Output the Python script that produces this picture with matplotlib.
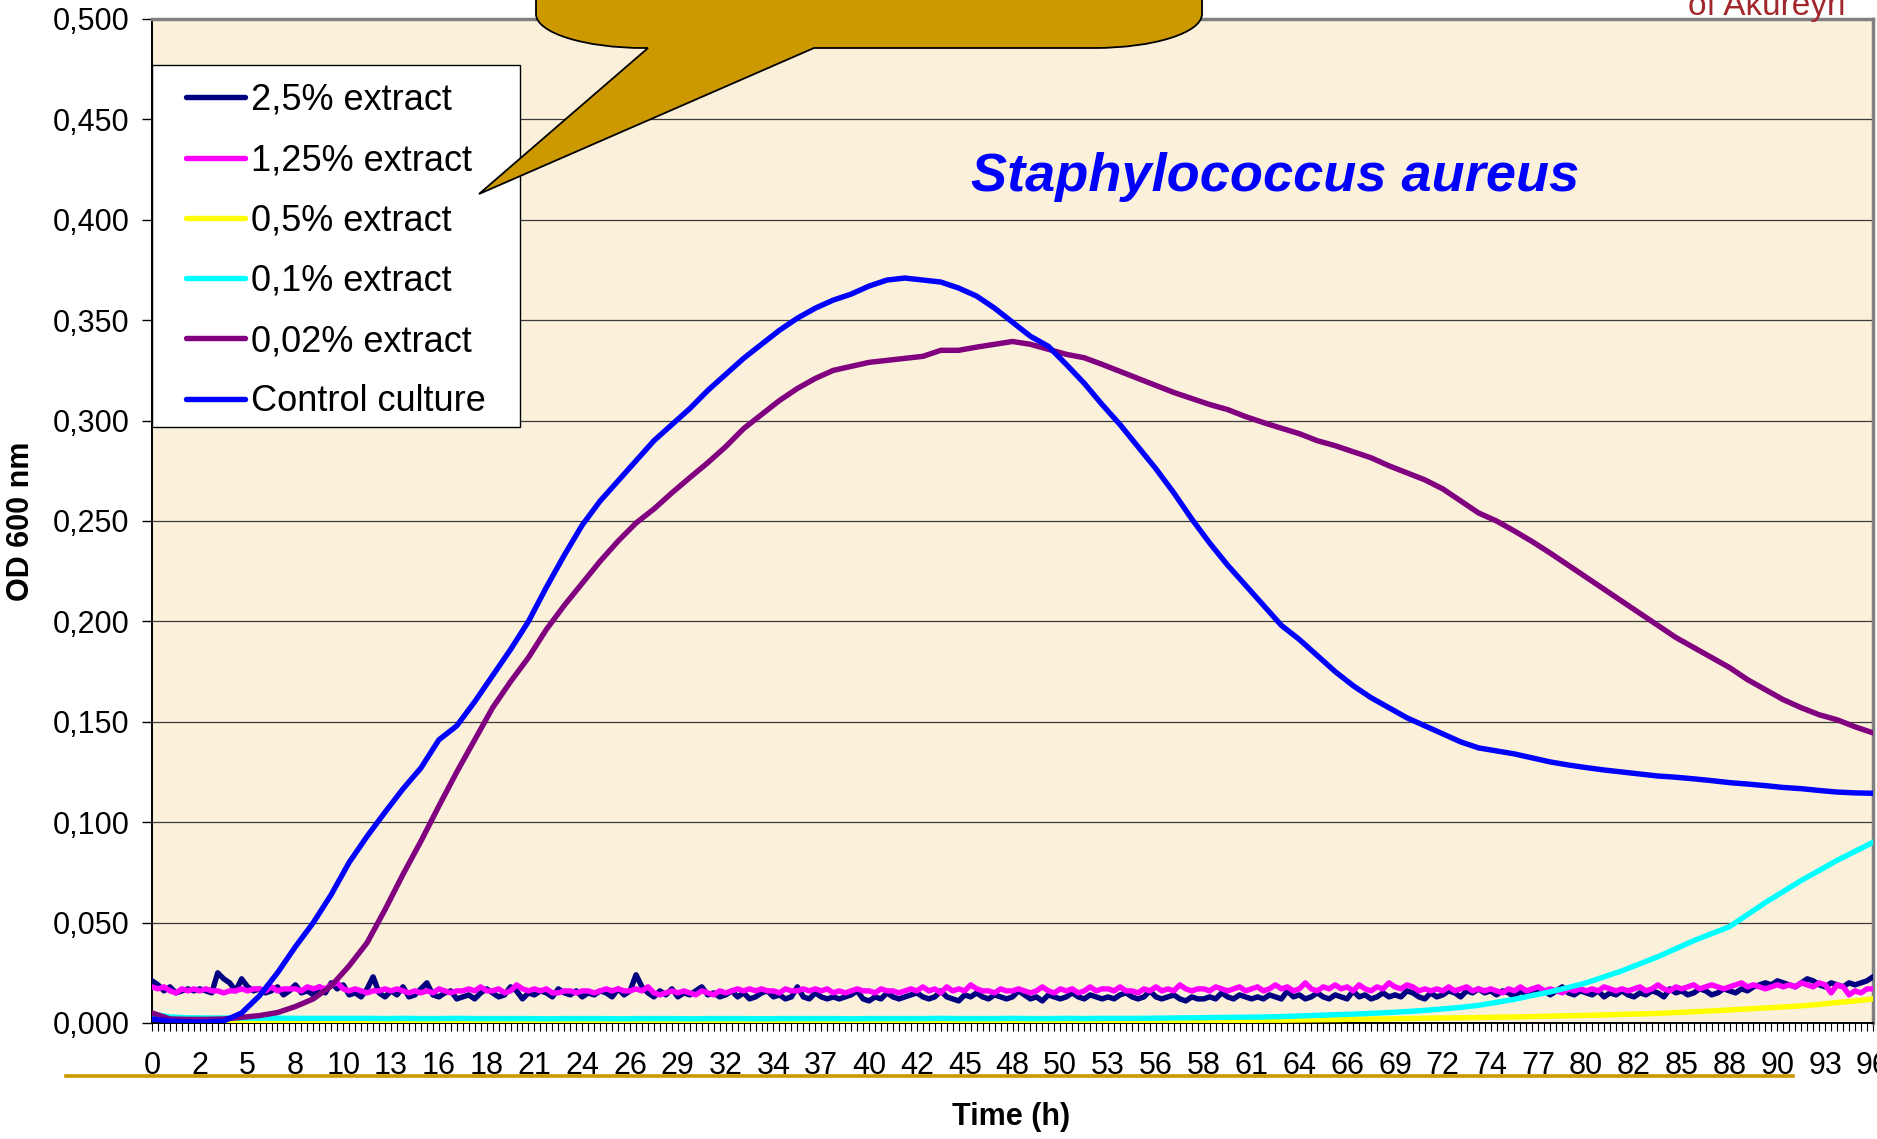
import numpy as np
import matplotlib
matplotlib.use("Agg")
import matplotlib.pyplot as plt
from matplotlib.path import Path
from matplotlib.patches import PathPatch, Rectangle
from matplotlib.lines import Line2D
from matplotlib.transforms import Affine2D
from matplotlib.ticker import FuncFormatter

plt.rcParams['font.family'] = ['Liberation Sans', 'DejaVu Sans']

# ---------------- data ----------------
# hourly sampled smooth curves (t = 0..96 h)
hours = list(range(97))
control = [0.002, 0.001, 0.0005, 0.0005, 0.001, 0.005, 0.0136, 0.025, 0.038, 0.050,
           0.064, 0.080, 0.093, 0.105, 0.1166, 0.127, 0.141, 0.148, 0.160, 0.173,
           0.186, 0.200, 0.217, 0.233, 0.248, 0.260, 0.270, 0.280, 0.290, 0.298,
           0.306, 0.315, 0.323, 0.331, 0.338, 0.345, 0.351, 0.356, 0.360, 0.363,
           0.367, 0.370, 0.371, 0.370, 0.369, 0.366, 0.362, 0.356, 0.349, 0.342,
           0.337, 0.328, 0.3186, 0.308, 0.298, 0.287, 0.276, 0.264, 0.251, 0.239,
           0.228, 0.218, 0.208, 0.198, 0.191, 0.183, 0.175, 0.168, 0.162, 0.157,
           0.152, 0.148, 0.144, 0.140, 0.137, 0.1355, 0.134, 0.132, 0.130, 0.1285,
           0.1272, 0.126, 0.125, 0.124, 0.123, 0.1224, 0.1216, 0.1207, 0.1197, 0.119,
           0.1182, 0.1173, 0.1167, 0.1158, 0.115, 0.1146, 0.1144]
ext_002 = [0.005, 0.002, 0.0018, 0.0018, 0.002, 0.0028, 0.0037, 0.0052, 0.0082, 0.012,
           0.0185, 0.0285, 0.040, 0.0565, 0.074, 0.0905, 0.108, 0.125, 0.141, 0.157,
           0.170, 0.182, 0.196, 0.208, 0.219, 0.230, 0.240, 0.249, 0.256, 0.264,
           0.2716, 0.279, 0.287, 0.296, 0.303, 0.310, 0.316, 0.321, 0.325, 0.327,
           0.329, 0.330, 0.331, 0.332, 0.335, 0.335, 0.3366, 0.338, 0.3394, 0.338,
           0.3355, 0.333, 0.3313, 0.328, 0.3245, 0.321, 0.3175, 0.314, 0.311, 0.308,
           0.3055, 0.302, 0.299, 0.2962, 0.2935, 0.290, 0.2875, 0.2845, 0.2815, 0.2775,
           0.274, 0.2705, 0.266, 0.260, 0.254, 0.250, 0.245, 0.2397, 0.234, 0.228,
           0.222, 0.216, 0.210, 0.204, 0.198, 0.192, 0.187, 0.182, 0.177, 0.171,
           0.166, 0.161, 0.157, 0.1535, 0.151, 0.1475, 0.1445]
ext_01 = [0.0045, 0.003, 0.0026, 0.0025, 0.0025, 0.0024, 0.0024, 0.0024, 0.0023, 0.0023,
          0.0023, 0.0023, 0.0023, 0.0022, 0.0023, 0.0022, 0.0022, 0.0023, 0.0022, 0.0022,
          0.0022, 0.0022, 0.0021, 0.0022, 0.0022, 0.0022, 0.0021, 0.0022, 0.0022, 0.0022,
          0.0021, 0.0022, 0.0022, 0.0022, 0.0021, 0.0022, 0.0022, 0.0022, 0.0022, 0.0021,
          0.0022, 0.0022, 0.0022, 0.0022, 0.0023, 0.0022, 0.0022, 0.0022, 0.0023, 0.0022,
          0.0022, 0.0023, 0.0022, 0.0023, 0.0023, 0.0023, 0.0024, 0.0025, 0.0026, 0.0027,
          0.0028, 0.0029, 0.0030, 0.0032, 0.0035, 0.0038, 0.0041, 0.0044, 0.0048, 0.0052,
          0.0057, 0.0063, 0.0070, 0.0078, 0.0088, 0.0103, 0.0118, 0.0137, 0.0155, 0.0177,
          0.020, 0.023, 0.026, 0.0295, 0.033, 0.037, 0.041, 0.0445, 0.048, 0.054,
          0.060, 0.0655, 0.071, 0.076, 0.081, 0.0855, 0.090]
ext_05 = [0.004, 0.0012, 0.0010, 0.0010, 0.0009, 0.0010, 0.0010, 0.0009, 0.0010, 0.0010,
          0.0010, 0.0009, 0.0010, 0.0010, 0.0010, 0.0009, 0.0010, 0.0010, 0.0010, 0.0009,
          0.0010, 0.0010, 0.0010, 0.0009, 0.0010, 0.0010, 0.0010, 0.0009, 0.0010, 0.0010,
          0.0010, 0.0009, 0.0010, 0.0010, 0.0010, 0.0009, 0.0010, 0.0010, 0.0010, 0.0009,
          0.0010, 0.0010, 0.0010, 0.0009, 0.0010, 0.0010, 0.0010, 0.0009, 0.0010, 0.0010,
          0.0010, 0.0009, 0.0010, 0.0010, 0.0010, 0.0010, 0.0011, 0.0011, 0.0012, 0.0012,
          0.0012, 0.0013, 0.0014, 0.0014, 0.0015, 0.0016, 0.0017, 0.0019, 0.0020, 0.0021,
          0.0022, 0.0024, 0.0025, 0.0026, 0.0027, 0.0029, 0.0030, 0.0032, 0.0034, 0.0036,
          0.0038, 0.0040, 0.0043, 0.0045, 0.0048, 0.0052, 0.0056, 0.0060, 0.0065, 0.0070,
          0.0075, 0.0080, 0.0085, 0.0093, 0.0102, 0.0110, 0.0120]

# 20-minute sampled noisy series (289 points, t = 0..96 h)
ext_25 = [0.021, 0.019, 0.016, 0.018, 0.015, 0.016, 0.017, 0.016,
          0.017, 0.016, 0.015, 0.025, 0.022, 0.020, 0.016, 0.022,
          0.018, 0.016, 0.017, 0.015, 0.016, 0.018, 0.014, 0.016,
          0.019, 0.015, 0.016, 0.014, 0.018, 0.015, 0.020, 0.017,
          0.019, 0.014, 0.015, 0.013, 0.017, 0.023, 0.015, 0.013,
          0.016, 0.014, 0.018, 0.013, 0.014, 0.017, 0.020, 0.014,
          0.013, 0.015, 0.016, 0.012, 0.013, 0.014, 0.012, 0.015,
          0.017, 0.015, 0.013, 0.014, 0.018, 0.016, 0.012, 0.015,
          0.014, 0.016, 0.015, 0.013, 0.017, 0.015, 0.014, 0.016,
          0.013, 0.015, 0.014, 0.016, 0.015, 0.013, 0.017, 0.014,
          0.016, 0.024, 0.018, 0.015, 0.013, 0.016, 0.014, 0.017,
          0.013, 0.015, 0.014, 0.016, 0.018, 0.014, 0.015, 0.013,
          0.014, 0.016, 0.013, 0.015, 0.012, 0.013, 0.015, 0.016,
          0.013, 0.014, 0.012, 0.013, 0.018, 0.013, 0.012, 0.015,
          0.013, 0.012, 0.013, 0.012, 0.013, 0.014, 0.016, 0.012,
          0.011, 0.013, 0.012, 0.015, 0.013, 0.012, 0.013, 0.014,
          0.015, 0.013, 0.012, 0.013, 0.016, 0.013, 0.012, 0.011,
          0.014, 0.013, 0.015, 0.013, 0.012, 0.014, 0.013, 0.012,
          0.013, 0.016, 0.014, 0.012, 0.013, 0.011, 0.014, 0.013,
          0.012, 0.013, 0.015, 0.013, 0.012, 0.014, 0.013, 0.012,
          0.013, 0.012, 0.014, 0.015, 0.013, 0.012, 0.013, 0.016,
          0.013, 0.012, 0.013, 0.014, 0.012, 0.011, 0.013, 0.012,
          0.012, 0.013, 0.012, 0.015, 0.013, 0.012, 0.014, 0.013,
          0.012, 0.013, 0.012, 0.014, 0.013, 0.012, 0.016, 0.013,
          0.014, 0.012, 0.013, 0.015, 0.013, 0.012, 0.014, 0.013,
          0.012, 0.016, 0.013, 0.014, 0.012, 0.013, 0.015, 0.013,
          0.014, 0.013, 0.016, 0.015, 0.013, 0.012, 0.015, 0.013,
          0.014, 0.016, 0.015, 0.013, 0.016, 0.015, 0.017, 0.015,
          0.016, 0.014, 0.016, 0.015, 0.013, 0.016, 0.014, 0.017,
          0.015, 0.016, 0.014, 0.016, 0.018, 0.015, 0.014, 0.016,
          0.015, 0.014, 0.016, 0.013, 0.015, 0.014, 0.016, 0.014,
          0.013, 0.015, 0.014, 0.016, 0.015, 0.013, 0.017, 0.015,
          0.016, 0.014, 0.015, 0.017, 0.016, 0.014, 0.015, 0.017,
          0.016, 0.015, 0.017, 0.016, 0.018, 0.019, 0.020, 0.019,
          0.021, 0.020, 0.019, 0.018, 0.020, 0.022, 0.021, 0.019,
          0.018, 0.020, 0.019, 0.018, 0.020, 0.019, 0.020, 0.021,
          0.023]
ext_125 = [0.018, 0.017, 0.018, 0.016, 0.015, 0.017, 0.016, 0.017,
           0.016, 0.017, 0.016, 0.016, 0.015, 0.016, 0.016, 0.017,
           0.016, 0.017, 0.017, 0.016, 0.018, 0.016, 0.017, 0.017,
           0.017, 0.016, 0.018, 0.017, 0.018, 0.017, 0.019, 0.020,
           0.017, 0.016, 0.017, 0.016, 0.015, 0.016, 0.016, 0.017,
           0.016, 0.017, 0.016, 0.015, 0.016, 0.015, 0.016, 0.015,
           0.017, 0.016, 0.015, 0.016, 0.016, 0.017, 0.016, 0.018,
           0.016, 0.016, 0.017, 0.015, 0.016, 0.019, 0.017, 0.016,
           0.017, 0.016, 0.017, 0.015, 0.015, 0.016, 0.016, 0.015,
           0.016, 0.016, 0.015, 0.016, 0.017, 0.016, 0.017, 0.016,
           0.016, 0.017, 0.016, 0.018, 0.015, 0.014, 0.015, 0.016,
           0.015, 0.016, 0.015, 0.014, 0.016, 0.015, 0.014, 0.016,
           0.015, 0.016, 0.017, 0.016, 0.017, 0.016, 0.017, 0.016,
           0.016, 0.015, 0.017, 0.016, 0.016, 0.017, 0.016, 0.017,
           0.016, 0.017, 0.015, 0.016, 0.015, 0.016, 0.017, 0.016,
           0.016, 0.015, 0.017, 0.016, 0.016, 0.015, 0.016, 0.017,
           0.016, 0.018, 0.016, 0.017, 0.015, 0.018, 0.016, 0.017,
           0.016, 0.019, 0.017, 0.016, 0.016, 0.015, 0.017, 0.016,
           0.016, 0.017, 0.016, 0.015, 0.016, 0.018, 0.016, 0.015,
           0.017, 0.016, 0.017, 0.015, 0.016, 0.018, 0.016, 0.017,
           0.017, 0.016, 0.018, 0.016, 0.016, 0.015, 0.017, 0.016,
           0.018, 0.016, 0.017, 0.016, 0.019, 0.017, 0.016, 0.017,
           0.017, 0.016, 0.018, 0.017, 0.016, 0.017, 0.018, 0.016,
           0.017, 0.018, 0.016, 0.017, 0.019, 0.017, 0.018, 0.016,
           0.017, 0.020, 0.017, 0.016, 0.018, 0.017, 0.019, 0.017,
           0.018, 0.016, 0.019, 0.017, 0.016, 0.018, 0.017, 0.020,
           0.018, 0.017, 0.019, 0.018, 0.016, 0.017, 0.016, 0.017,
           0.016, 0.018, 0.016, 0.017, 0.018, 0.016, 0.017, 0.016,
           0.017, 0.016, 0.015, 0.017, 0.016, 0.018, 0.016, 0.017,
           0.018, 0.016, 0.017, 0.016, 0.015, 0.017, 0.016, 0.017,
           0.016, 0.017, 0.016, 0.018, 0.017, 0.016, 0.017, 0.016,
           0.017, 0.018, 0.016, 0.017, 0.019, 0.017, 0.016, 0.018,
           0.017, 0.018, 0.019, 0.017, 0.018, 0.019, 0.018, 0.017,
           0.018, 0.019, 0.020, 0.018, 0.019, 0.018, 0.017, 0.018,
           0.019, 0.018, 0.019, 0.018, 0.020, 0.019, 0.018, 0.020,
           0.019, 0.015, 0.019, 0.018, 0.014, 0.016, 0.015, 0.017,
           0.017]

tick_labels = ['0', '2', '5', '8', '10', '13', '16', '18', '21', '24', '26', '29',
               '32', '34', '37', '40', '42', '45', '48', '50', '53', '56', '58', '61',
               '64', '66', '69', '72', '74', '77', '80', '82', '85', '88', '90', '93', '96']

series_names = ['2,5% extract', '1,25% extract', '0,5% extract', '0,1% extract',
                '0,02% extract', 'Control culture']
series_colors = ['#000080', '#FF00FF', '#FFFF00', '#00FFFF', '#800080', '#0000FF']

# ---------------- figure ----------------
W, H = 1877, 1139
fig = plt.figure(figsize=(W / 100, H / 100), dpi=100)
fig.patch.set_facecolor('white')

ax = fig.add_axes([152 / W, 1 - 1023 / H, (1873 - 152) / W, (1023 - 19) / H])
ax.set_facecolor('#FBF1DA')
ax.set_xlim(0, 96)
ax.set_ylim(0, 0.5)

t20 = np.arange(len(ext_25)) / 3.0
lw = 3.9
ax.plot(t20, ext_25, color=series_colors[0], lw=lw, zorder=3)
ax.plot(t20, ext_125, color=series_colors[1], lw=lw, zorder=3)
ax.plot(hours, ext_05, color=series_colors[2], lw=lw, zorder=3)
ax.plot(hours, ext_01, color=series_colors[3], lw=lw, zorder=3)
ax.plot(hours, ext_002, color=series_colors[4], lw=lw, zorder=3)
ax.plot(hours, control, color=series_colors[5], lw=lw, zorder=3)

# y axis
ax.set_yticks(np.arange(0, 0.5001, 0.05))
ax.yaxis.set_major_formatter(FuncFormatter(lambda v, p: f'{v:.3f}'.replace('.', ',')))
ax.tick_params(axis='y', direction='out', length=7.2, width=1.0, pad=9, labelsize=22)
ax.yaxis.grid(True, color='#3a3a3a', lw=0.9)
ax.set_axisbelow(True)

# x axis (categorical, every 20 min)
ax.set_xticks(t20)
xl = [''] * len(t20)
for k, lab in enumerate(tick_labels):
    xl[8 * k] = lab
ax.set_xticklabels(xl)
ax.tick_params(axis='x', direction='out', length=5.8, width=0.8, pad=14, labelsize=22)

for s in ['left', 'bottom']:
    ax.spines[s].set_color('black')
    ax.spines[s].set_linewidth(1.4)
for s in ['top', 'right']:
    ax.spines[s].set_color('#808080')
    ax.spines[s].set_linewidth(2.5)

ax.text((1275 - 152) / 1721, (1023 - 177) / 1004, 'Staphylococcus aureus',
        transform=ax.transAxes, ha='center', va='center', fontsize=39,
        fontweight='bold', fontstyle='italic', color='#0000FF', zorder=4)

# legend box + legend
fig.add_artist(Rectangle((152 / W, 1 - 427 / H), (520 - 152) / W, (427 - 65) / H,
                         transform=fig.transFigure, facecolor='white',
                         edgecolor='black', lw=1.0, zorder=4))
handles = [Line2D([], [], color=c, lw=3.9, solid_capstyle='round') for c in series_colors]
fig.legend(handles, series_names, loc='upper left', bbox_to_anchor=(186 / W, 1 - 83 / H),
           frameon=False, borderpad=0, borderaxespad=0, handlelength=1.64,
           handletextpad=0.17, labelspacing=0.70, fontsize=26)

# speech-bubble callout
px = Affine2D().scale(1 / W, -1 / H).translate(0, 1) + fig.transFigure
x0, x1, yb, ytop, rx, ry, k = 536, 1202, 48, -80, 108, 34, 0.5523
verts = [(x0, ytop), (x0, yb - ry),
         (x0, yb - ry + k * ry), (x0 + rx - k * rx, yb), (x0 + rx, yb),
         (648, yb), (479, 194), (814, yb), (x1 - rx, yb),
         (x1 - rx + k * rx, yb), (x1, yb - ry + k * ry), (x1, yb - ry),
         (x1, ytop), (x0, ytop)]
codes = [Path.MOVETO, Path.LINETO,
         Path.CURVE4, Path.CURVE4, Path.CURVE4,
         Path.LINETO, Path.LINETO, Path.LINETO, Path.LINETO,
         Path.CURVE4, Path.CURVE4, Path.CURVE4,
         Path.LINETO, Path.CLOSEPOLY]
fig.add_artist(PathPatch(Path(verts, codes), transform=px, facecolor='#CC9900',
                         edgecolor='black', lw=1.3, zorder=10))

# gold underline below x tick labels
fig.add_artist(Line2D([66 / W, 1793 / W], [1 - 1076 / H, 1 - 1076 / H],
                      transform=fig.transFigure, color='#CC9900', lw=2.6, zorder=6))

# axis titles and corner text
fig.text(21.5 / W, 1 - 521 / H, 'OD 600 nm', rotation=90, ha='center', va='center',
         fontsize=22, fontweight='bold')
fig.text(1011.5 / W, 1 - 1117 / H, 'Time (h)', ha='center', va='center',
         fontsize=22, fontweight='bold')
fig.text(1688 / W, 1 - 15 / H, 'of Akureyri', ha='left', va='baseline',
         fontsize=24, color='#A0282D')

fig.savefig('out.png', dpi=100)
